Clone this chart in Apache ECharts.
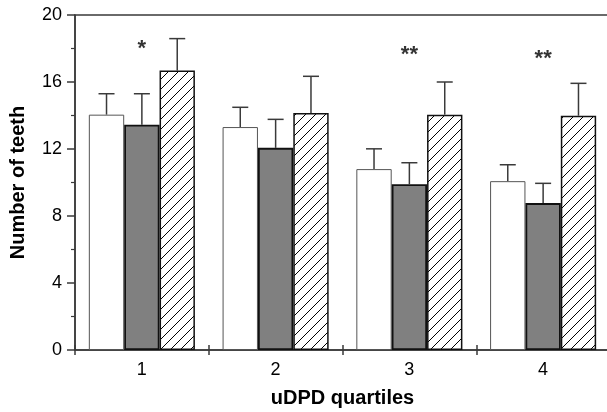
<!DOCTYPE html>
<html><head><meta charset="utf-8">
<script src="https://cdn.jsdelivr.net/npm/echarts@6/dist/echarts.min.js"></script>
<style>html,body{margin:0;padding:0;background:#fff}#c{width:607px;height:412px}</style>
</head><body><div id="c"></div>
<script>
var categories = ['1', '2', '3', '4'];
var whiteMeans = [14.05, 13.31, 10.80, 10.08];
var whiteUpper = [15.30, 14.49, 12.01, 11.06];
var grayMeans = [13.45, 12.07, 9.90, 8.77];
var grayUpper = [15.30, 13.77, 11.18, 9.95];
var hatchMeans = [16.68, 14.15, 14.05, 13.99];
var hatchUpper = [18.59, 16.34, 16.00, 15.92];
var sigLabels = ['*', '', '**', '**'];
var sigY = [18.0, null, 17.6, 17.4];
var yTicks = [0, 4, 8, 12, 16, 20];

var FONT = '"Liberation Sans", Arial, sans-serif';
var GAP = 0.207;

var cv = document.createElement('canvas');
cv.width = 10; cv.height = 10;
var cx = cv.getContext('2d');
cx.fillStyle = '#fff'; cx.fillRect(0, 0, 10, 10);
cx.strokeStyle = '#000'; cx.lineWidth = 1;
cx.beginPath();
cx.moveTo(-1, 11); cx.lineTo(11, -1);
cx.moveTo(-6, 6); cx.lineTo(6, -6);
cx.moveTo(4, 16); cx.lineTo(16, 4);
cx.stroke();

function errSeries(means, upper, idx) {
  return {
    type: 'custom',
    z: 1,
    data: means.map(function (m, i) { return [i, m, upper[i]]; }),
    renderItem: function (params, api) {
      var cw = api.size([1, 0])[0];
      var bw = cw * (1 - GAP) / 3;
      var base = api.coord([api.value(0), api.value(1)]);
      var top = api.coord([api.value(0), api.value(2)]);
      var x = base[0] + (idx - 1) * bw;
      var cap = 8;
      var st = { stroke: '#3a3a3a', lineWidth: 1.5 };
      return {
        type: 'group',
        children: [
          { type: 'line', shape: { x1: x, y1: base[1], x2: x, y2: top[1] }, style: st },
          { type: 'line', shape: { x1: x - cap, y1: top[1], x2: x + cap, y2: top[1] }, style: st }
        ]
      };
    }
  };
}

var chart = echarts.init(document.getElementById('c'), null, { renderer: 'canvas' });
chart.setOption({
  animation: false,
  backgroundColor: '#fff',
  grid: { left: 75, top: 15, right: -3, bottom: 62, containLabel: false, outerBoundsMode: 'none',
    show: true, borderColor: '#3a3a3a', borderWidth: 1.5, backgroundColor: 'transparent' },
  xAxis: [{
    type: 'category',
    data: categories,
    name: 'uDPD quartiles',
    nameLocation: 'middle',
    nameGap: 38,
    nameTextStyle: { fontFamily: FONT, fontSize: 20, fontWeight: 'bold', color: '#000' },
    axisLine: { lineStyle: { color: '#3a3a3a', width: 1.5 } },
    axisTick: { show: true, length: 5, lineStyle: { color: '#3a3a3a', width: 1.5 } },
    axisLabel: { fontFamily: FONT, fontSize: 18, color: '#000', margin: 11 }
  }, {
    type: 'category',
    data: categories,
    position: 'bottom',
    axisLine: { show: false },
    axisTick: { show: true, inside: true, length: 5, lineStyle: { color: '#3a3a3a', width: 1.5 } },
    axisLabel: { show: false }
  }],
  yAxis: {
    type: 'value',
    min: yTicks[0],
    max: yTicks[yTicks.length - 1],
    interval: 4,
    name: 'Number of teeth',
    nameLocation: 'middle',
    nameGap: 47,
    nameTextStyle: { fontFamily: FONT, fontSize: 20, fontWeight: 'bold', color: '#000' },
    axisLine: { show: true, lineStyle: { color: '#3a3a3a', width: 1.5 } },
    axisTick: { show: true, length: 8, lineStyle: { color: '#3a3a3a', width: 1.5 } },
    minorTick: { show: true, splitNumber: 2, length: 4, lineStyle: { color: '#3a3a3a', width: 1.2 } },
    splitLine: { show: false },
    axisLabel: { fontFamily: FONT, fontSize: 18, color: '#000', margin: 13 }
  },
  series: [
    { type: 'bar', data: whiteMeans, barGap: '0%', barCategoryGap: (GAP * 100) + '%', z: 2,
      itemStyle: { color: '#fff', borderColor: '#555', borderWidth: 1 } },
    { type: 'bar', data: grayMeans, z: 2,
      itemStyle: { color: '#808080', borderColor: '#111', borderWidth: 1.8 } },
    { type: 'bar', data: hatchMeans, z: 2,
      itemStyle: { color: { image: cv, repeat: 'repeat' }, borderColor: '#111', borderWidth: 1.5 } },
    errSeries(whiteMeans, whiteUpper, 0),
    errSeries(grayMeans, grayUpper, 1),
    errSeries(hatchMeans, hatchUpper, 2),
    {
      type: 'scatter', symbolSize: 0, z: 5,
      data: sigY.map(function (v, i) { return { value: [i, v], name: sigLabels[i] }; }).filter(function (d) { return d.value[1] != null; }),
      label: { show: true, position: 'inside', formatter: function (p) { return p.name; },
        fontFamily: FONT, fontSize: 22, fontWeight: 'bold', color: '#000' }
    }
  ]
});
</script></body></html>
